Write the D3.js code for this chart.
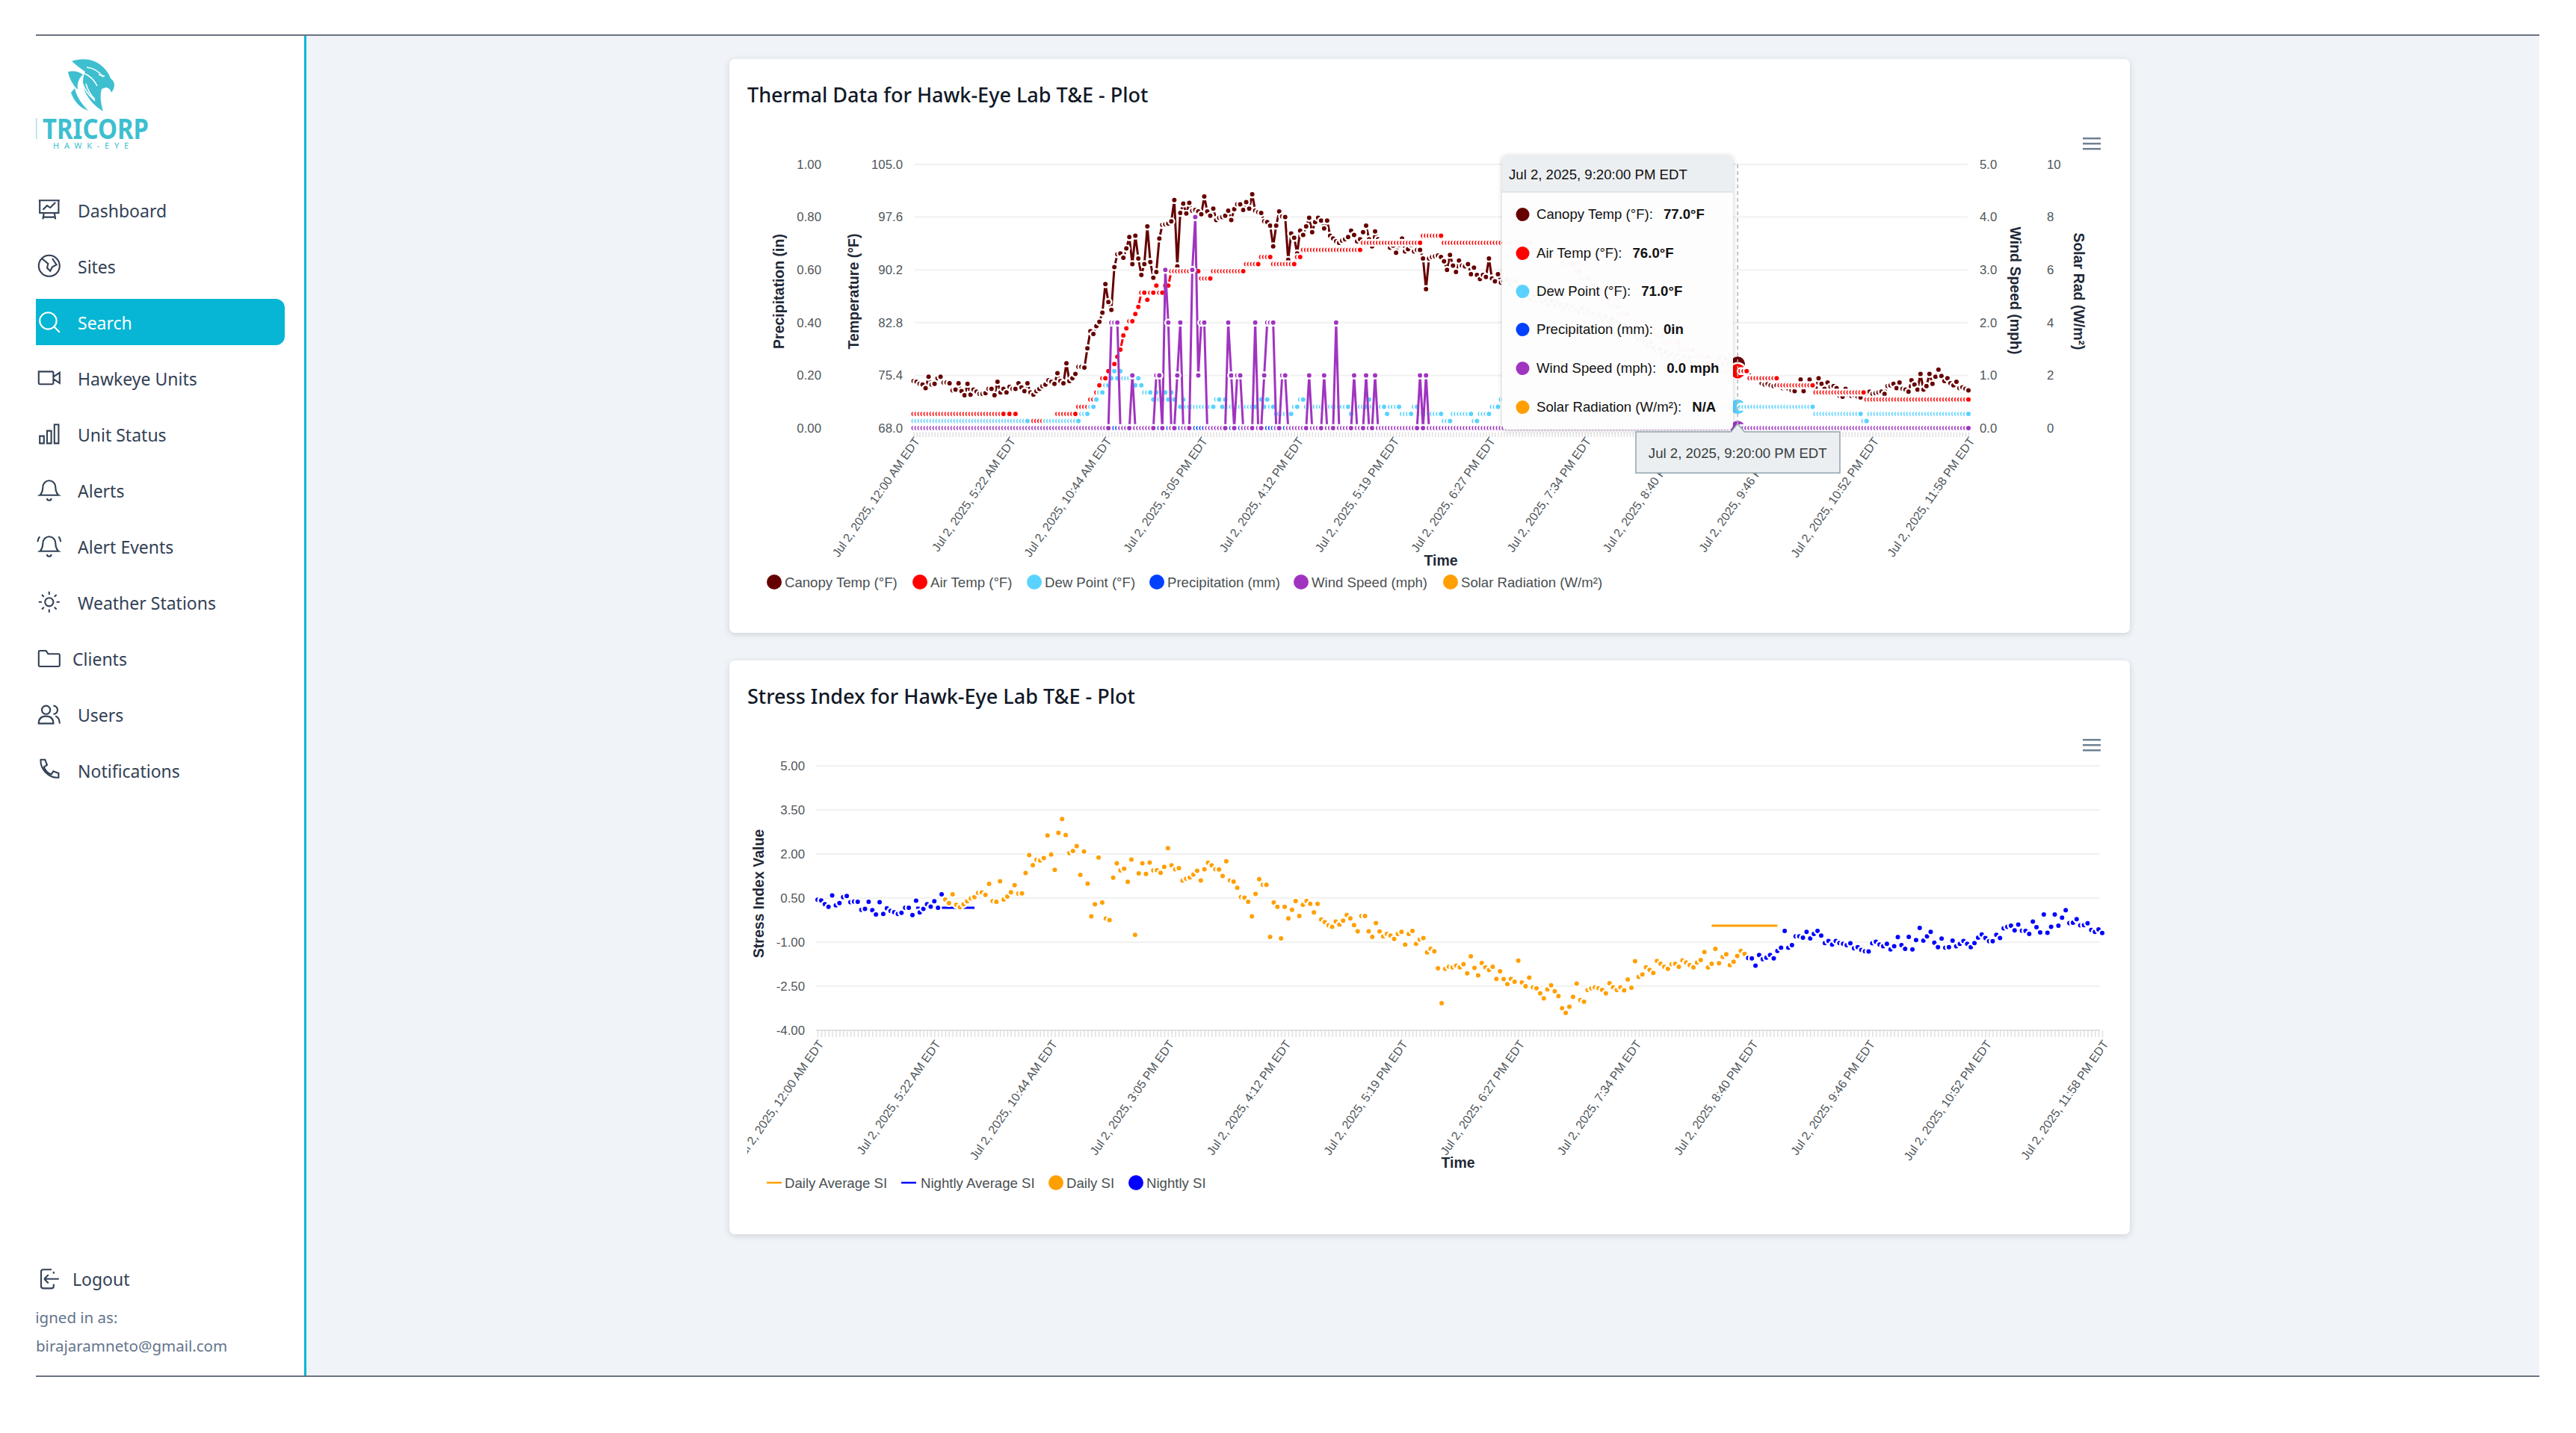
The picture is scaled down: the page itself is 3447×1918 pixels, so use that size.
<!DOCTYPE html>
<html>
<head>
<meta charset="utf-8">
<title>Hawk-Eye Plot</title>
<script src="https://cdn.jsdelivr.net/npm/d3@7/dist/d3.min.js"></script>
<style>
    html, body { margin: 0; padding: 0; background: #fff; }
    svg { display: block; }
    .chart-text { font-family: "Liberation Sans", Arial, sans-serif; }
    .ui-text { font-family: "Noto Sans", "Open Sans", sans-serif; }
    .card { filter: drop-shadow(0 2px 4px rgba(0, 0, 0, 0.14)); }
    .tip { filter: drop-shadow(0 1px 3px rgba(0, 0, 0, 0.22)); }
</style>
</head>
<body>
<div id="page"></div>
<script>
// Tick labels (same 12 categories on both charts)
const tickLabels = [
    'Jul 2, 2025, 12:00 AM EDT', 'Jul 2, 2025, 5:22 AM EDT', 'Jul 2, 2025, 10:44 AM EDT', 'Jul 2, 2025, 3:05 PM EDT',
    'Jul 2, 2025, 4:12 PM EDT', 'Jul 2, 2025, 5:19 PM EDT', 'Jul 2, 2025, 6:27 PM EDT', 'Jul 2, 2025, 7:34 PM EDT',
    'Jul 2, 2025, 8:40 PM EDT', 'Jul 2, 2025, 9:46 PM EDT', 'Jul 2, 2025, 10:52 PM EDT', 'Jul 2, 2025, 11:58 PM EDT'
];
const pointsPerLabel = 32;

// Thermal chart, 353 readings each
const canopyTemp = [
    74.6,74.5,74.2,74.1,73.6,75.2,74.1,74.2,75.0,75.2,
    74.4,74.4,74.3,73.3,73.4,74.3,73.2,72.6,74.2,72.7,
    73.4,73.1,72.8,72.8,72.9,73.5,73.5,72.6,74.5,73.0,
    73.5,73.0,73.8,73.5,73.5,74.3,73.7,73.2,74.3,73.0,
    72.7,73.2,73.5,73.9,74.1,74.7,74.5,74.2,75.7,74.6,
    74.3,77.1,74.6,75.0,75.6,76.6,76.6,76.5,79.2,81.6,
    81.2,82.3,82.9,84.2,88.2,85.7,84.6,90.6,92.4,92.5,
    91.9,93.2,94.8,91.0,95.0,91.8,89.5,91.0,96.3,91.3,
    89.1,89.9,94.6,96.5,96.6,96.7,97.0,100.0,90.7,98.2,
    99.5,98.1,99.6,98.5,98.6,98.4,98.0,100.5,98.4,97.8,
    98.8,97.2,97.5,97.6,97.8,98.5,97.2,98.7,99.4,99.4,
    98.6,99.7,98.8,100.8,98.5,98.3,98.2,97.0,96.9,96.4,
    93.5,96.4,98.4,97.7,97.6,91.6,95.3,94.7,92.5,95.7,
    95.1,96.3,97.5,95.5,96.9,97.5,97.1,96.0,97.1,95.0,
    94.6,94.2,94.0,94.3,94.5,94.8,95.7,95.1,94.2,94.5,
    95.5,96.4,94.5,93.5,95.6,94.5,94.2,94.0,93.7,93.3,
    93.6,92.6,93.7,94.6,92.8,93.1,93.7,92.8,93.0,93.0,
    91.8,87.5,91.8,92.0,92.1,92.2,92.0,91.4,90.2,92.3,
    90.8,89.9,91.5,90.8,90.7,91.0,89.6,90.5,89.5,88.9,
    89.5,89.2,91.8,89.0,88.6,89.6,88.4,88.6,88.8,88.2,
    88.7,88.6,87.9,87.5,87.0,86.4,86.1,86.5,85.9,86.2,
    85.7,85.9,85.4,85.8,85.2,85.6,85.3,84.9,85.2,84.7,
    85.0,84.6,84.4,84.8,84.1,84.4,83.9,84.1,83.7,83.9,
    83.4,83.7,83.0,83.3,82.6,82.9,82.2,82.5,81.8,81.3,
    81.6,80.9,80.4,80.6,80.1,79.7,80.0,79.3,78.8,79.0,
    78.4,78.6,78.1,78.3,77.9,78.2,77.7,78.0,77.5,77.8,
    77.3,77.6,77.2,77.5,77.9,77.4,77.7,77.2,77.5,77.8,
    77.3,77.6,77.1,77.4,77.2,77.0,76.5,76.0,75.8,75.4,
    75.1,75.0,74.8,74.3,74.1,74.2,74.0,73.9,74.0,73.8,
    73.6,73.7,73.5,73.3,73.2,73.9,74.8,73.2,74.1,74.8,
    74.0,73.6,75.0,74.2,73.5,74.4,73.8,73.9,73.6,72.5,
    72.4,73.5,72.7,72.5,72.6,72.4,72.3,73.0,72.9,73.1,
    72.8,72.9,73.0,73.1,72.8,73.9,74.0,74.2,73.6,74.4,
    73.5,73.4,73.1,74.7,74.1,73.4,75.6,73.4,73.9,75.6,
    74.2,75.2,76.2,75.3,74.6,75.0,74.3,74.0,74.5,73.6,
    73.7,73.5,73.3
];
const airTemp = [
    70,70,70,70,70,70,70,70,70,70,
    70,70,70,70,70,70,70,70,70,70,
    70,70,70,70,70,70,70,70,70,70,
    70,69,70,69,70,69,69,69,69,69,
    69,69,69,69,69,69,69,69,70,70,
    70,70,70,70,70,71,71,71,71,72,
    72,73,74,75,75,76,77,77,78,79,
    81,82,83,83,84,85,87,87,86,87,
    87,88,87,87,88,88,90,90,90,90,
    90,90,90,90,90,90,89,89,89,89,
    90,90,90,90,90,90,90,90,90,90,
    90,91,91,91,91,91,92,92,92,92,
    91,91,91,91,91,91,91,91,92,92,
    93,93,93,93,93,93,93,93,93,93,
    93,93,93,93,93,93,93,93,93,93,
    94,94,94,94,94,94,94,94,94,94,
    94,94,94,94,94,94,94,94,94,94,
    95,95,95,95,95,95,95,94,94,94,
    94,94,94,94,94,94,94,94,94,94,
    94,94,94,94,94,94,94,94,94,94,
    94,94,94,94,94,94,94,93,93,93,
    93,92,92,92,92,92,92,91,91,91,
    91,90,90,89,89,89,88,88,87,87,
    86,86,86,85,85,85,84,84,84,83,
    83,83,83,83,82,82,82,82,81,81,
    81,80,80,80,80,80,79,79,79,79,
    79,78,78,78,78,78,77,77,77,77,
    77,76,76,76,76,76,76,76,76,75,
    75,75,75,75,75,75,75,75,75,74,
    74,74,74,74,74,74,74,74,74,74,
    74,73,73,73,73,73,73,73,73,73,
    73,73,73,73,73,73,73,73,72,72,
    72,72,72,72,72,72,72,72,72,72,
    72,72,72,72,72,72,72,72,72,72,
    72,72,72,72,72,72,72,72,72,72,
    72,72,72
];
const dewPoint = [
    69,69,69,69,69,69,69,69,69,69,
    69,69,69,69,69,69,69,69,69,69,
    69,69,69,69,69,69,69,69,69,69,
    69,69,69,69,69,69,69,69,69,68,
    68,68,68,68,69,69,69,69,69,69,
    69,69,69,69,69,69,70,70,70,71,
    71,72,73,73,74,74,75,76,75,76,
    75,75,75,75,74,75,74,73,73,73,
    72,73,72,72,73,72,73,72,71,71,
    72,71,71,71,71,71,71,71,71,71,
    71,72,72,71,72,71,71,71,71,71,
    71,71,71,71,71,72,72,71,72,71,
    71,70,70,70,70,70,70,71,71,72,
    72,71,71,71,71,71,71,71,71,71,
    71,71,71,71,71,71,70,71,71,71,
    71,71,72,71,71,71,71,71,70,71,
    71,71,71,70,70,70,70,71,71,70,
    70,70,70,70,70,70,70,69,69,69,
    70,70,70,70,70,70,70,69,69,70,
    70,70,70,71,71,71,72,72,72,72,
    72,72,72,72,72,72,71,71,71,71,
    71,71,71,71,71,71,71,71,71,71,
    71,71,71,71,71,71,70,70,70,70,
    70,70,70,70,70,70,70,70,70,70,
    70,70,70,69,69,69,69,69,69,69,
    69,69,69,69,69,70,70,70,70,70,
    70,70,70,71,71,71,71,71,71,71,
    71,71,71,71,71,71,71,71,71,71,
    71,71,71,71,71,71,71,71,71,71,
    71,71,71,71,71,71,71,71,71,71,
    71,70,70,70,70,70,70,70,70,70,
    70,70,70,70,70,70,70,69,69,70,
    70,70,70,70,70,70,70,70,70,70,
    70,70,70,70,70,70,70,70,70,70,
    70,70,70,70,70,70,70,70,70,70,
    70,70,70
];
const precipitation = [
    0,0,0,0,0,0,0,0,0,0,0,0,0,0,0,0,0,0,0,0,
    0,0,0,0,0,0,0,0,0,0,0,0,0,0,0,0,0,0,0,0,
    0,0,0,0,0,0,0,0,0,0,0,0,0,0,0,0,0,0,0,0,
    0,0,0,0,0,0,0,0,0,0,0,0,0,0,0,0,0,0,0,0,
    0,0,0,0,0,0,0,0,0,0,0,0,0,0,0,0,0,0,0,0,
    0,0,0,0,0,0,0,0,0,0,0,0,0,0,0,0,0,0,0,0,
    0,0,0,0,0,0,0,0,0,0,0,0,0,0,0,0,0,0,0,0,
    0,0,0,0,0,0,0,0,0,0,0,0,0,0,0,0,0,0,0,0,
    0,0,0,0,0,0,0,0,0,0,0,0,0,0,0,0,0,0,0,0,
    0,0,0,0,0,0,0,0,0,0,0,0,0,0,0,0,0,0,0,0,
    0,0,0,0,0,0,0,0,0,0,0,0,0,0,0,0,0,0,0,0,
    0,0,0,0,0,0,0,0,0,0,0,0,0,0,0,0,0,0,0,0,
    0,0,0,0,0,0,0,0,0,0,0,0,0,0,0,0,0,0,0,0,
    0,0,0,0,0,0,0,0,0,0,0,0,0,0,0,0,0,0,0,0,
    0,0,0,0,0,0,0,0,0,0,0,0,0,0,0,0,0,0,0,0,
    0,0,0,0,0,0,0,0,0,0,0,0,0,0,0,0,0,0,0,0,
    0,0,0,0,0,0,0,0,0,0,0,0,0,0,0,0,0,0,0,0,
    0,0,0,0,0,0,0,0,0,0,0,0,0
];
const windSpeed = [
    0,0,0,0,0,0,0,0,0,0,0,0,0,0,0,0,0,0,0,0,
    0,0,0,0,0,0,0,0,0,0,0,0,0,0,0,0,0,0,0,0,
    0,0,0,0,0,0,0,0,0,0,0,0,0,0,0,0,0,0,0,0,
    0,0,0,0,0,0,2,2,2,0,
    0,0,0,1,0,0,0,0,0,0,
    0,1,1,0,3,2,0,0,1,2,
    0,0,0,3,4,1,2,2,0,0,
    0,0,0,0,0,2,1,0,1,1,
    0,0,0,0,2,0,0,1,2,2,
    2,0,0,1,1,0,0,0,0,0,
    0,0,1,0,0,0,0,1,0,0,
    0,2,0,0,0,0,0,1,0,0,
    0,1,0,0,1,0,0,0,0,0,
    0,0,0,0,0,0,0,0,0,1,
    0,1,0,0,0,0,0,0,0,0,
    0,0,0,0,0,0,0,0,0,0,0,0,0,0,0,0,0,0,0,0,
    0,0,0,0,0,0,0,0,0,0,0,0,0,0,0,0,0,0,0,0,
    0,0,0,0,0,0,0,0,0,0,0,0,0,0,0,0,0,0,0,0,
    0,0,0,0,0,0,0,0,0,0,0,0,0,0,0,0,0,0,0,0,
    0,0,0,0,0,0,0,0,0,0,0,0,0,0,0,0,0,0,0,0,
    0,0,0,0,0,0,0,0,0,0,0,0,0,0,0,0,0,0,0,0,
    0,0,0,0,0,0,0,0,0,0,0,0,0,0,0,0,0,0,0,0,
    0,0,0,0,0,0,0,0,0,0,0,0,0,0,0,0,0,0,0,0,
    0,0,0,0,0,0,0,0,0,0,0,0,0
];

// Stress index chart, one value per reading
const stressIndex = [
    0.44,0.42,0.29,0.20,0.59,0.25,0.33,0.53,0.57,0.36,
    0.38,0.37,0.10,0.13,0.37,0.09,-0.06,0.36,-0.04,0.15,
    0.06,0.02,-0.04,0.00,0.17,0.17,-0.08,0.41,0.01,0.13,
    0.29,0.21,0.39,0.17,0.63,0.45,0.33,0.63,0.27,0.19,
    0.29,0.39,0.49,0.53,0.68,0.69,0.61,0.98,0.40,0.37,
    1.07,0.45,0.55,0.70,0.94,0.65,0.66,1.35,1.96,1.62,
    1.80,1.78,1.86,2.63,1.98,1.46,2.72,3.19,2.64,2.03,
    2.10,2.27,1.29,2.08,0.99,-0.12,0.29,1.88,0.35,-0.20,
    -0.25,1.19,1.68,1.44,1.50,1.05,1.81,-0.75,1.34,1.68,
    1.32,1.71,1.44,1.45,1.36,1.56,2.20,1.61,1.48,1.52,
    1.10,1.16,1.20,1.30,1.43,1.10,1.48,1.70,1.61,1.48,
    1.47,1.25,1.75,1.10,1.06,0.85,0.53,0.51,0.37,-0.12,
    0.64,1.14,0.95,0.95,-0.82,0.35,0.20,-0.87,0.20,-0.19,
    0.10,0.40,-0.11,0.27,0.40,0.30,0.01,0.30,-0.23,-0.32,
    -0.43,-0.48,-0.30,-0.40,-0.27,-0.08,-0.19,-0.42,-0.63,-0.11,
    -0.11,-0.63,-0.82,-0.35,-0.64,-0.80,-0.72,-0.78,-0.89,-0.72,
    -0.65,-1.08,-0.72,-0.62,-1.06,-0.91,-0.86,-1.35,-1.23,-1.31,
    -1.89,-3.08,-1.91,-1.84,-1.86,-1.80,-1.86,-1.75,-2.06,-1.48,
    -1.88,-2.13,-1.71,-1.86,-1.95,-1.84,-2.25,-1.99,-2.26,-2.43,
    -2.25,-2.35,-1.63,-2.37,-2.50,-2.21,-2.54,-2.57,-2.74,-2.91,
    -2.61,-2.47,-2.67,-2.84,-3.25,-3.41,-3.20,-2.86,-2.41,-2.97,
    -3.03,-2.63,-2.57,-2.54,-2.57,-2.63,-2.74,-2.40,-2.54,-2.63,
    -2.54,-2.64,-2.27,-2.55,-1.65,-2.18,-2.10,-1.86,-1.95,-2.05,
    -1.64,-1.74,-1.84,-1.91,-1.75,-1.74,-1.84,-1.62,-1.69,-1.78,
    -1.86,-1.69,-1.61,-1.34,-1.86,-1.74,-1.23,-1.72,-1.50,-1.41,
    -1.78,-1.67,-1.47,-1.30,-1.40,-1.54,-1.55,-1.80,-1.44,-1.58,
    -1.53,-1.44,-1.55,-1.30,-1.19,-0.62,-1.19,-1.10,-0.80,-0.80,
    -0.85,-0.65,-0.87,-0.72,-0.62,-0.78,-1.03,-0.96,-1.08,-0.96,
    -1.03,-1.06,-1.10,-1.04,-1.21,-1.17,-1.27,-1.31,-1.32,-1.04,
    -0.99,-1.08,-1.14,-1.06,-1.25,-1.14,-0.83,-1.10,-1.23,-0.82,
    -1.25,-0.93,-0.52,-0.95,-0.80,-0.65,-1.02,-1.17,-0.88,-1.19,
    -1.17,-0.95,-1.14,-1.06,-0.96,-1.06,-1.17,-1.03,-0.85,-0.74,
    -0.86,-0.97,-0.97,-0.75,-0.86,-0.53,-0.48,-0.44,-0.60,-0.40,
    -0.61,-0.62,-0.72,-0.30,-0.49,-0.67,-0.06,-0.68,-0.48,-0.06,
    -0.44,-0.17,0.09,-0.35,-0.34,-0.22,-0.43,-0.42,-0.36,-0.59,
    -0.65,-0.57,-0.69
];
const dailyRange = [35, 254];        // readings that count as daily, the rest are nightly
const nightlyAverage = {from: 27, to: 43, value: 0.17};
const dailyAverage = {from: 245, to: 263, value: -0.44};

// Axis ticks
const precipTicks = [0, 0.2, 0.4, 0.6, 0.8, 1];
const tempTicks = [68, 75.4, 82.8, 90.2, 97.6, 105];
const windTicks = [0, 1, 2, 3, 4, 5];
const solarTicks = [0, 2, 4, 6, 8, 10];
const stressTicks = [-4, -2.5, -1, 0.5, 2, 3.5, 5];

// Tooltip content
const hoverIndex = 275;
const hoverTime = 'Jul 2, 2025, 9:20:00 PM EDT';
const tooltipRows = [
    ['Canopy Temp (°F):', '77.0°F'], ['Air Temp (°F):', '76.0°F'], ['Dew Point (°F):', '71.0°F'],
    ['Precipitation (mm):', '0in'], ['Wind Speed (mph):', '0.0 mph'], ['Solar Radiation (W/m²):', 'N/A']
];

// Colors
const colors = {
    canopy: '#660000', air: '#ff0000', dew: '#5ad2ff', precip: '#0040ff',
    wind: '#a034c0', solar: '#ff9f00', daily: '#ff9f00', nightly: '#0000ff'
};

// Sidebar
const navItems = [
    ['Dashboard', 'M2 3h20M3 3v12h18V3M6 12l4-4 3 2 5-5M7 15l-1 6M17 15l1 6M6 19h12'],
    ['Sites', 'M12 2a10 10 0 1 0 0 20a10 10 0 0 0 0-20zM5 5l6 5-1 4 3 3 2-4 4-2-4-6'],
    ['Search', 'M11 3a8 8 0 1 0 0 16a8 8 0 0 0 0-16zM17 17l5 5'],
    ['Hawkeye Units', 'M2 6h13a1 1 0 0 1 1 1v10a1 1 0 0 1-1 1H3a1 1 0 0 1-1-1zM16 11l6-4v10l-6-4'],
    ['Unit Status', 'M3 14h4v7H3zM10 9h4v12h-4zM17 3h4v18h-4z'],
    ['Alerts', 'M12 3a6 6 0 0 0-6 6c0 6-3 8-3 8h18s-3-2-3-8a6 6 0 0 0-6-6zM10 20a2 2 0 0 0 4 0'],
    ['Alert Events', 'M12 3a6 6 0 0 0-6 6c0 6-3 8-3 8h18s-3-2-3-8a6 6 0 0 0-6-6zM10 20a2 2 0 0 0 4 0M3 3a8 8 0 0 0-2 5M21 3a8 8 0 0 1 2 5'],
    ['Weather Stations', 'M12 8a4 4 0 1 0 0 8a4 4 0 0 0 0-8zM12 2v3M12 19v3M2 12h3M19 12h3M5 5l2 2M17 17l2 2M5 19l2-2M17 7l2-2'],
    ['Clients', 'M2 6a1 1 0 0 1 1-1h6l2 3h10a1 1 0 0 1 1 1v10a1 1 0 0 1-1 1H3a1 1 0 0 1-1-1z'],
    ['Users', 'M9 4a4 4 0 1 0 0 8a4 4 0 0 0 0-8zM2 21c0-5 3-7 7-7s7 2 7 7zM16 4a4 4 0 0 1 0 8M18 14c3 1 4 3 4 7'],
    ['Notifications', 'M4 2h4l2 5-3 2c1 3 4 6 7 7l2-3 5 2v4C12 20 3 11 4 2z']
];
const logoutIcon = 'M15 3H7a2 2 0 0 0-2 2v14a2 2 0 0 0 2 2h8a2 2 0 0 0 2-2v-2M17 7V5M22 12H8M8 12l4-4M8 12l4 4';
const eaglePaths = [
    'M96 82c14-5 30-3 40 6 6 5 10 11 12 17 3 2 5 5 5 9 0 4-2 7-4 10-1-4-3-6-7-7l-6 2c-2 8-2 16 2 30-10-6-19-15-24-26-4-9-4-19 0-27-6-4-12-9-18-14z',
    'M91 96c8-2 15 0 20 4-6 5-8 12-7 20-6-6-11-14-13-24z',
    'M100 118c2 10 8 20 18 30-10-3-19-12-23-24z'
];
const eagleFeathers = [
    'M116 90c9 1 16 5 22 13', 'M112 98c8 3 14 9 18 17', 'M109 108c3 10 9 19 18 27', 'M115 112c2 8 6 15 12 21',
    'M132 100l8 2'
];

const svg = d3.select('#page').append('svg')
    .attr('width', 3447)
    .attr('height', 1918);
const defs = svg.append('defs');
defs.append('clipPath').attr('id', 'frame-clip')
    .append('rect').attr('x', 48).attr('y', 47).attr('width', 3350).attr('height', 1795);
defs.append('clipPath').attr('id', 'stress-label-clip')
    .append('rect').attr('x', 1000).attr('y', 1380).attr('width', 1900).attr('height', 200);

const frame = svg.append('g').attr('clip-path', 'url(#frame-clip)');

// Page background
frame.append('rect').attr('x', 48).attr('y', 47).attr('width', 3350).attr('height', 1795).attr('fill', '#fff');
frame.append('rect').attr('x', 407).attr('y', 47).attr('width', 2991).attr('height', 1795).attr('fill', '#f0f4f9');
frame.append('rect').attr('x', 407).attr('y', 47).attr('width', 3).attr('height', 1795).attr('fill', '#06b6d4');

drawSidebar(frame);

svg.append('line').attr('x1', 48).attr('x2', 3398).attr('y1', 47).attr('y2', 47).attr('stroke', '#6b7280').attr('stroke-width', 2);
svg.append('line').attr('x1', 48).attr('x2', 3398).attr('y1', 1842).attr('y2', 1842).attr('stroke', '#6b7280').attr('stroke-width', 2);

drawThermalChart(frame);
drawStressChart(frame);

function drawSidebar(parent) {
    const g = parent.append('g').attr('class', 'ui-text');

    // Logo
    g.selectAll('.eagle').data(eaglePaths).enter().append('path')
        .attr('class', 'eagle')
        .attr('d', d => d)
        .attr('fill', '#3dbfd0');
    g.selectAll('.feather').data(eagleFeathers).enter().append('path')
        .attr('class', 'feather')
        .attr('d', d => d)
        .attr('fill', 'none')
        .attr('stroke', '#fff')
        .attr('stroke-width', 1.6);
    g.append('rect').attr('x', 48).attr('y', 158).attr('width', 1.5).attr('height', 28).attr('fill', '#a9dfe7');
    g.append('text').attr('x', 57).attr('y', 186)
        .attr('textLength', 142).attr('lengthAdjust', 'spacingAndGlyphs')
        .style('font-size', '38px').style('font-weight', 700).attr('fill', '#3dbfd0')
        .text('TRICORP');
    g.append('text').attr('x', 71).attr('y', 199)
        .attr('textLength', 101)
        .style('font-size', '11px').attr('fill', '#3dbfd0')
        .text('HAWK-EYE');

    // Active item
    g.append('path')
        .attr('d', 'M48 400H369a12 12 0 0 1 12 12V450a12 12 0 0 1-12 12H48z')
        .attr('fill', '#06b6d4');

    navItems.forEach(([label, icon], i) => {
        const y = 283 + i * 75;
        const active = label === 'Search';
        const color = active ? '#fff' : '#334155';
        g.append('path')
            .attr('d', icon)
            .attr('transform', `translate(49,${y - 19}) scale(1.4)`)
            .attr('fill', 'none')
            .attr('stroke', color)
            .attr('stroke-width', 1.5);
        g.append('text')
            .attr('x', label === 'Clients' ? 97 : 104)
            .attr('y', y)
            .attr('dy', '0.35em')
            .style('font-size', '23px')
            .attr('fill', color)
            .text(label);
    });

    g.append('path').attr('d', logoutIcon)
        .attr('transform', 'translate(48,1695) scale(1.4)')
        .attr('fill', 'none').attr('stroke', '#334155').attr('stroke-width', 1.5);
    g.append('text').attr('x', 97).attr('y', 1713).attr('dy', '0.35em')
        .style('font-size', '23px').attr('fill', '#334155').text('Logout');
    g.append('text').attr('x', 36).attr('y', 1764).attr('dy', '0.35em')
        .style('font-size', '20.5px').attr('fill', '#64748b').text('Signed in as:');
    g.append('text').attr('x', 48).attr('y', 1802).attr('dy', '0.35em')
        .style('font-size', '20.5px').attr('fill', '#64748b').text('birajaramneto@gmail.com');
}

// Card, title and hamburger menu shared by the two charts
function drawCard(parent, top, height, title) {
    const g = parent.append('g');
    g.append('rect').attr('class', 'card')
        .attr('x', 976).attr('y', top).attr('width', 1874).attr('height', height)
        .attr('rx', 7).attr('fill', '#fff');
    g.append('text').attr('class', 'ui-text')
        .attr('x', 1000).attr('y', top + 49).attr('dy', '0.35em')
        .style('font-size', '27px').style('font-weight', 500)
        .attr('fill', '#111827')
        .text(title);
    [0, 7, 14].forEach(offset => {
        g.append('rect')
            .attr('x', 2787).attr('y', top + 105 + offset)
            .attr('width', 24).attr('height', 2.5)
            .attr('fill', '#6e8192');
    });
}

function gridLines(g, scale, ticks, x1, x2) {
    g.append('g').selectAll('line').data(ticks).enter().append('line')
        .attr('x1', x1).attr('x2', x2)
        .attr('y1', d => scale(d)).attr('y2', d => scale(d))
        .attr('stroke', '#f1f1f1').attr('stroke-width', 2);
}

function styleAxis(axisGroup) {
    axisGroup.select('.domain').remove();
    axisGroup.selectAll('text')
        .style('font-size', '16.8px')
        .attr('fill', '#50565a');
}

function axisTitle(g, text, x, y, rotation) {
    g.append('text')
        .attr('transform', `translate(${x},${y}) rotate(${rotation})`)
        .attr('text-anchor', 'middle')
        .attr('dy', '0.35em')
        .style('font-size', '19.5px')
        .style('font-weight', 700)
        .attr('fill', '#1f2937')
        .text(text);
}

function legendEntry(g, kind, color, label, markerX, textX, y) {
    if (kind === 'dot') {
        g.append('circle').attr('cx', markerX).attr('cy', y).attr('r', 10).attr('fill', color);
    } else {
        g.append('line').attr('x1', markerX - 10).attr('x2', markerX + 10)
            .attr('y1', y).attr('y2', y).attr('stroke', color).attr('stroke-width', 2.5);
    }
    g.append('text').attr('x', textX).attr('y', y).attr('dy', '0.35em')
        .style('font-size', '18.6px').attr('fill', '#4a4f52').text(label);
}

// Hatch of one tick per reading plus the 12 rotated labels
function categoryAxis(g, x, y, hatchOffset, hatchSize, labelDy, clipId) {
    const hatch = g.append('g')
        .attr('transform', `translate(0,${y + hatchOffset})`)
        .call(d3.axisBottom(x).tickValues(d3.range(canopyTemp.length)).tickSize(hatchSize).tickFormat(''));
    hatch.select('.domain').remove();
    hatch.selectAll('line').attr('stroke', '#e0e0e0').attr('stroke-width', 1.5);

    const labels = g.append('g').attr('clip-path', clipId ? `url(#${clipId})` : null).append('g')
        .attr('transform', `translate(0,${y})`)
        .call(d3.axisBottom(x)
            .tickValues(d3.range(tickLabels.length).map(i => i * pointsPerLabel))
            .tickSize(0)
            .tickFormat(i => tickLabels[i / pointsPerLabel]));
    labels.select('.domain').remove();
    labels.selectAll('text')
        .attr('x', 0).attr('y', 0).attr('dy', '0.35em')
        .attr('text-anchor', 'end')
        .attr('transform', `translate(4,${labelDy}) rotate(-55)`)
        .style('font-size', '16px')
        .attr('fill', '#50565a');
}

// A series is its line and then one white ringed dot per reading, later dots over earlier ones
function drawSeries(g, values, x, y, color, bigIndex) {
    const line = d3.line().x((d, i) => x(i)).y(d => y(d));
    const series = g.append('g');
    series.append('path')
        .attr('d', line(values))
        .attr('fill', 'none')
        .attr('stroke', color)
        .attr('stroke-width', 3);
    series.selectAll('circle').data(values).enter().append('circle')
        .attr('cx', (d, i) => x(i))
        .attr('cy', d => y(d))
        .attr('r', (d, i) => i === bigIndex ? 11 : 4.2)
        .attr('fill', color)
        .attr('stroke', '#fff')
        .attr('stroke-width', 2.4);
}

function drawThermalChart(parent) {
    drawCard(parent, 79, 768, 'Thermal Data for Hawk-Eye Lab T&E - Plot');
    const g = parent.append('g').attr('class', 'chart-text');

    const x = d3.scaleLinear().domain([0, canopyTemp.length - 1]).range([1222.5, 2634]);
    const yTemp = d3.scaleLinear().domain([68, 105]).range([573, 220]);
    const yPrecip = d3.scaleLinear().domain([0, 1]).range([573, 220]);
    const yWind = d3.scaleLinear().domain([0, 5]).range([573, 220]);
    const ySolar = d3.scaleLinear().domain([0, 10]).range([573, 220]);

    gridLines(g, yTemp, tempTicks, 1224, 2633);

    g.append('g').attr('transform', 'translate(1208,0)')
        .call(d3.axisLeft(yTemp).tickValues(tempTicks).tickSize(0).tickPadding(0).tickFormat(d => d.toFixed(1)))
        .call(styleAxis);
    g.append('g').attr('transform', 'translate(1099,0)')
        .call(d3.axisLeft(yPrecip).tickValues(precipTicks).tickSize(0).tickPadding(0).tickFormat(d => d.toFixed(2)))
        .call(styleAxis);
    g.append('g').attr('transform', 'translate(2649,0)')
        .call(d3.axisRight(yWind).tickValues(windTicks).tickSize(0).tickPadding(0).tickFormat(d => d.toFixed(1)))
        .call(styleAxis);
    g.append('g').attr('transform', 'translate(2739,0)')
        .call(d3.axisRight(ySolar).tickValues(solarTicks).tickSize(0).tickPadding(0).tickFormat(d => d))
        .call(styleAxis);

    axisTitle(g, 'Precipitation (in)', 1042, 390, -90);
    axisTitle(g, 'Temperature (°F)', 1142, 390, -90);
    axisTitle(g, 'Wind Speed (mph)', 2697, 389, 90);
    axisTitle(g, 'Solar Rad (W/m²)', 2782, 390, 90);

    categoryAxis(g, x, 573, 5, 7, 14);
    axisTitle(g, 'Time', 1928, 750, 0);

    drawSeries(g, canopyTemp, x, yTemp, colors.canopy, hoverIndex);
    drawSeries(g, airTemp, x, yTemp, colors.air, hoverIndex);
    drawSeries(g, dewPoint, x, yTemp, colors.dew, hoverIndex);
    drawSeries(g, precipitation, x, yPrecip, colors.precip, -1);
    drawSeries(g, windSpeed, x, yWind, colors.wind, hoverIndex);

    // Legend
    const legendY = 779;
    legendEntry(g, 'dot', colors.canopy, 'Canopy Temp (°F)', 1036, 1050, legendY);
    legendEntry(g, 'dot', colors.air, 'Air Temp (°F)', 1231, 1245, legendY);
    legendEntry(g, 'dot', colors.dew, 'Dew Point (°F)', 1384, 1398, legendY);
    legendEntry(g, 'dot', colors.precip, 'Precipitation (mm)', 1548, 1562, legendY);
    legendEntry(g, 'dot', colors.wind, 'Wind Speed (mph)', 1741, 1755, legendY);
    legendEntry(g, 'dot', colors.solar, 'Solar Radiation (W/m²)', 1941, 1955, legendY);

    // Crosshair
    const hoverX = x(hoverIndex);
    g.append('line')
        .attr('x1', hoverX).attr('x2', hoverX).attr('y1', 220).attr('y2', 573)
        .attr('stroke', '#b6b6b6').attr('stroke-width', 1.5).attr('stroke-dasharray', '5 4');

    drawTooltip(g, hoverX);
}

function drawTooltip(g, hoverX) {
    const tipColors = [colors.canopy, colors.air, colors.dew, colors.precip, colors.wind, colors.solar];
    const rowY = [287, 339, 390, 441, 493, 545];

    g.append('rect').attr('class', 'tip')
        .attr('x', 2010).attr('y', 208).attr('width', 309).attr('height', 367)
        .attr('rx', 6).attr('fill', 'rgba(255,255,255,0.965)');
    g.append('path')
        .attr('d', 'M2010 257V214a6 6 0 0 1 6-6H2313a6 6 0 0 1 6 6V257z')
        .attr('fill', '#eceff1');
    g.append('line').attr('x1', 2010).attr('x2', 2319).attr('y1', 257).attr('y2', 257)
        .attr('stroke', '#dde1e4').attr('stroke-width', 1.5);
    g.append('text').attr('x', 2019).attr('y', 233).attr('dy', '0.35em')
        .style('font-size', '18.6px').attr('fill', '#111').text(hoverTime);

    tooltipRows.forEach(([label, value], i) => {
        g.append('circle').attr('cx', 2037.5).attr('cy', rowY[i]).attr('r', 9).attr('fill', tipColors[i]);
        const text = g.append('text').attr('x', 2056).attr('y', rowY[i]).attr('dy', '0.3em')
            .style('font-size', '18.6px').attr('fill', '#111');
        text.append('tspan').text(label);
        text.append('tspan').attr('dx', 14).style('font-weight', 700).text(value);
    });

    // Time badge under the axis
    g.append('path')
        .attr('d', `M2189 578H${hoverX - 9}L${hoverX} 567L${hoverX + 9} 578H2462V633H2189z`)
        .attr('fill', '#eceff1')
        .attr('stroke', '#90a4ae')
        .attr('stroke-width', 1.5);
    g.append('text').attr('x', hoverX).attr('y', 606).attr('dy', '0.35em')
        .attr('text-anchor', 'middle')
        .style('font-size', '18.6px').attr('fill', '#373d3f').text(hoverTime);
}

function drawStressChart(parent) {
    drawCard(parent, 884, 768, 'Stress Index for Hawk-Eye Lab T&E - Plot');
    const g = parent.append('g').attr('class', 'chart-text');

    const x = d3.scaleLinear().domain([0, stressIndex.length - 1]).range([1094, 2813]);
    const y = d3.scaleLinear().domain([-4, 5]).range([1379, 1025]);

    gridLines(g, y, stressTicks, 1092, 2810);

    g.append('g').attr('transform', 'translate(1077,0)')
        .call(d3.axisLeft(y).tickValues(stressTicks).tickSize(0).tickPadding(0).tickFormat(d => d.toFixed(2)))
        .call(styleAxis);

    axisTitle(g, 'Stress Index Value', 1015, 1196, -90);

    g.append('line').attr('x1', 1092).attr('x2', 2810).attr('y1', 1379).attr('y2', 1379)
        .attr('stroke', '#e0e0e0').attr('stroke-width', 2);
    categoryAxis(g, x, 1379, 0, 9, 15, 'stress-label-clip');
    axisTitle(g, 'Time', 1951, 1556, 0);

    // Average lines sit under the dots
    [[nightlyAverage, colors.nightly], [dailyAverage, colors.daily]].forEach(([avg, color]) => {
        g.append('line')
            .attr('x1', x(avg.from)).attr('x2', x(avg.to))
            .attr('y1', y(avg.value)).attr('y2', y(avg.value))
            .attr('stroke', color).attr('stroke-width', 3);
    });

    const isDaily = i => i >= dailyRange[0] && i <= dailyRange[1];
    g.append('g').selectAll('circle').data(stressIndex).enter().append('circle')
        .attr('cx', (d, i) => x(i))
        .attr('cy', d => y(d))
        .attr('r', 4.2)
        .attr('fill', (d, i) => isDaily(i) ? colors.daily : colors.nightly)
        .attr('stroke', '#fff')
        .attr('stroke-width', 2.4);

    const legendY = 1583;
    legendEntry(g, 'line', colors.daily, 'Daily Average SI', 1036, 1050, legendY);
    legendEntry(g, 'line', colors.nightly, 'Nightly Average SI', 1216, 1232, legendY);
    legendEntry(g, 'dot', colors.daily, 'Daily SI', 1413, 1427, legendY);
    legendEntry(g, 'dot', colors.nightly, 'Nightly SI', 1520, 1534, legendY);
}
</script>
</body>
</html>
